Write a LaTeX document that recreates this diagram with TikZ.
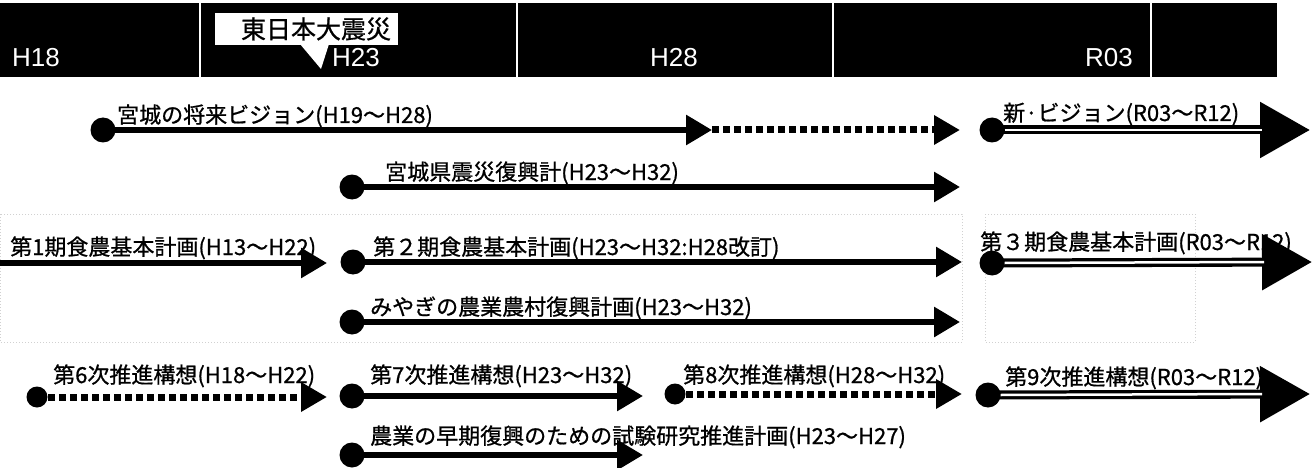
\documentclass[tikz,border=0pt]{standalone}
\usepackage{fontspec}
\setmainfont{Liberation Sans}
\newfontfamily\jp[FakeBold=0.8]{Noto Sans CJK JP}
\usetikzlibrary{arrows.meta}
\begin{document}
\begin{tikzpicture}[x=1pt,y=-1pt,
  lbl/.style={anchor=base west,inner sep=0pt,font=\jp\fontsize{22}{22}\selectfont},
  hdr/.style={anchor=base west,inner sep=0pt,text=white,font=\fontsize{26}{26}\selectfont},
  dotbig/.style={circle,fill=black,inner sep=0pt,minimum size=25pt},
  dotsmall/.style={circle,fill=black,inner sep=0pt,minimum size=21pt},
  sline/.style={line width=6pt,-{Triangle[length=26pt,width=29pt]}},
  dline/.style={line width=7pt,dash pattern=on 7pt off 4pt,-{Triangle[length=26pt,width=28pt]}},
  rline/.style={line width=9pt,-{Triangle[length=50pt,width=54pt]}},
  stripe/.style={white,line width=2.5pt},
  faint/.style={black!18,line width=0.8pt,dash pattern=on 1pt off 2pt},
]
\useasboundingbox (0,0) rectangle (1312,468);
% faint scanned frames
\draw[faint] (0,214) rectangle (962,342);
\draw[faint] (985,214) rectangle (1195,342);
% header bar
\fill[black] (0,3) rectangle (1277,77);
\foreach \xx in {200,517,833,1151} \draw[white,line width=2pt] (\xx,3) -- (\xx,77);
\node[hdr] (h18) at (12,67) {H18};
\node[hdr] (h23) at (332,67) {H23};
\node[hdr] (h28) at (650,67) {H28};
\node[hdr] (r03) at (1085,67) {R03};
% callout
\fill[white] (215,13) rectangle (398,45);
\fill[white] (300,44) -- (329,44) -- (321,69) -- cycle;
\node[inner sep=0pt,font=\jp\fontsize{25}{25}\selectfont] (quake) at (316,29) {東日本大震災};

% row 1
\node[dotbig] (a1) at (103,130) {};
\coordinate (a1m) at (712,130);
\coordinate (a1e) at (960,130);
\draw[sline] (a1.center) -- (a1m);
\draw[dline] (a1m) -- (a1e);
\node[lbl] (ta1) at (117,123) {宮城の将来ビジョン(H19～H28)};
\node[lbl] (ta2) at (1003,121) {新·ビジョン(R03～R12)};
\node[dotbig] (a2) at (992,130) {};
\coordinate (a2e) at (1310,130);
\coordinate (a2s) at (1262,130);
\draw[rline] (a2.center) -- (a2e);
\draw[stripe] (a2.east) -- (a2s);

% row 2
\node[dotbig] (b1) at (352,187) {};
\coordinate (b1e) at (960,187);
\draw[sline] (b1.center) -- (b1e);
\node[lbl] (tb1) at (385,180) {宮城県震災復興計(H23～H32)};

% row 3
\coordinate (c0) at (0,263);
\coordinate (c0e) at (327,263);
\draw[sline] (c0) -- (c0e);
\node[lbl] (tc0) at (10,255) {第1期食農基本計画(H13～H22)};
\node[dotbig] (c1) at (353,262) {};
\coordinate (c1e) at (962,262);
\draw[sline] (c1.center) -- (c1e);
\node[lbl] (tc1) at (373,255) {第２期食農基本計画(H23～H32:H28改訂)};
\node[lbl] (tc2) at (980,250) {第３期食農基本計画(R03～R12)};
\node[dotbig] (c2) at (992,263) {};
\coordinate (c2e) at (1312,262);
\coordinate (c2s) at (1264,262);
\draw[rline] (c2.center) -- (c2e);
\draw[stripe] (c2.east) -- (c2s);

% row 4
\node[dotbig] (d1) at (352,322) {};
\coordinate (d1e) at (960,322);
\draw[sline] (d1.center) -- (d1e);
\node[lbl] (td1) at (370,315) {みやぎの農業農村復興計画(H23～H32)};

% row 5
\node[dotsmall] (e0) at (37,397) {};
\coordinate (e0e) at (327,397);
\draw[dline] (e0.center) -- (e0e);
\node[lbl] (te0) at (53,383) {第6次推進構想(H18～H22)};
\node[dotbig] (e1) at (352,396) {};
\coordinate (e1e) at (643,396);
\draw[sline] (e1.center) -- (e1e);
\node[lbl] (te1) at (370,383) {第7次推進構想(H23～H32)};
\node[dotsmall] (e2) at (675,394) {};
\coordinate (e2e) at (962,394);
\draw[dline] (e2.center) -- (e2e);
\node[lbl] (te2) at (683,383) {第8次推進構想(H28～H32)};
\node[lbl] (te3) at (1005,385) {第9次推進構想(R03～R12)};
\node[dotbig] (e3) at (988,395) {};
\coordinate (e3e) at (1310,394);
\coordinate (e3s) at (1262,394);
\draw[rline] (e3.center) -- (e3e);
\draw[stripe] (e3.east) -- (e3s);

% row 6
\node[dotbig] (f1) at (352,455) {};
\coordinate (f1e) at (643,455);
\draw[sline] (f1.center) -- (f1e);
\node[lbl] (tf1) at (370,444) {農業の早期復興のための試験研究推進計画(H23～H27)};
\end{tikzpicture}
\end{document}
